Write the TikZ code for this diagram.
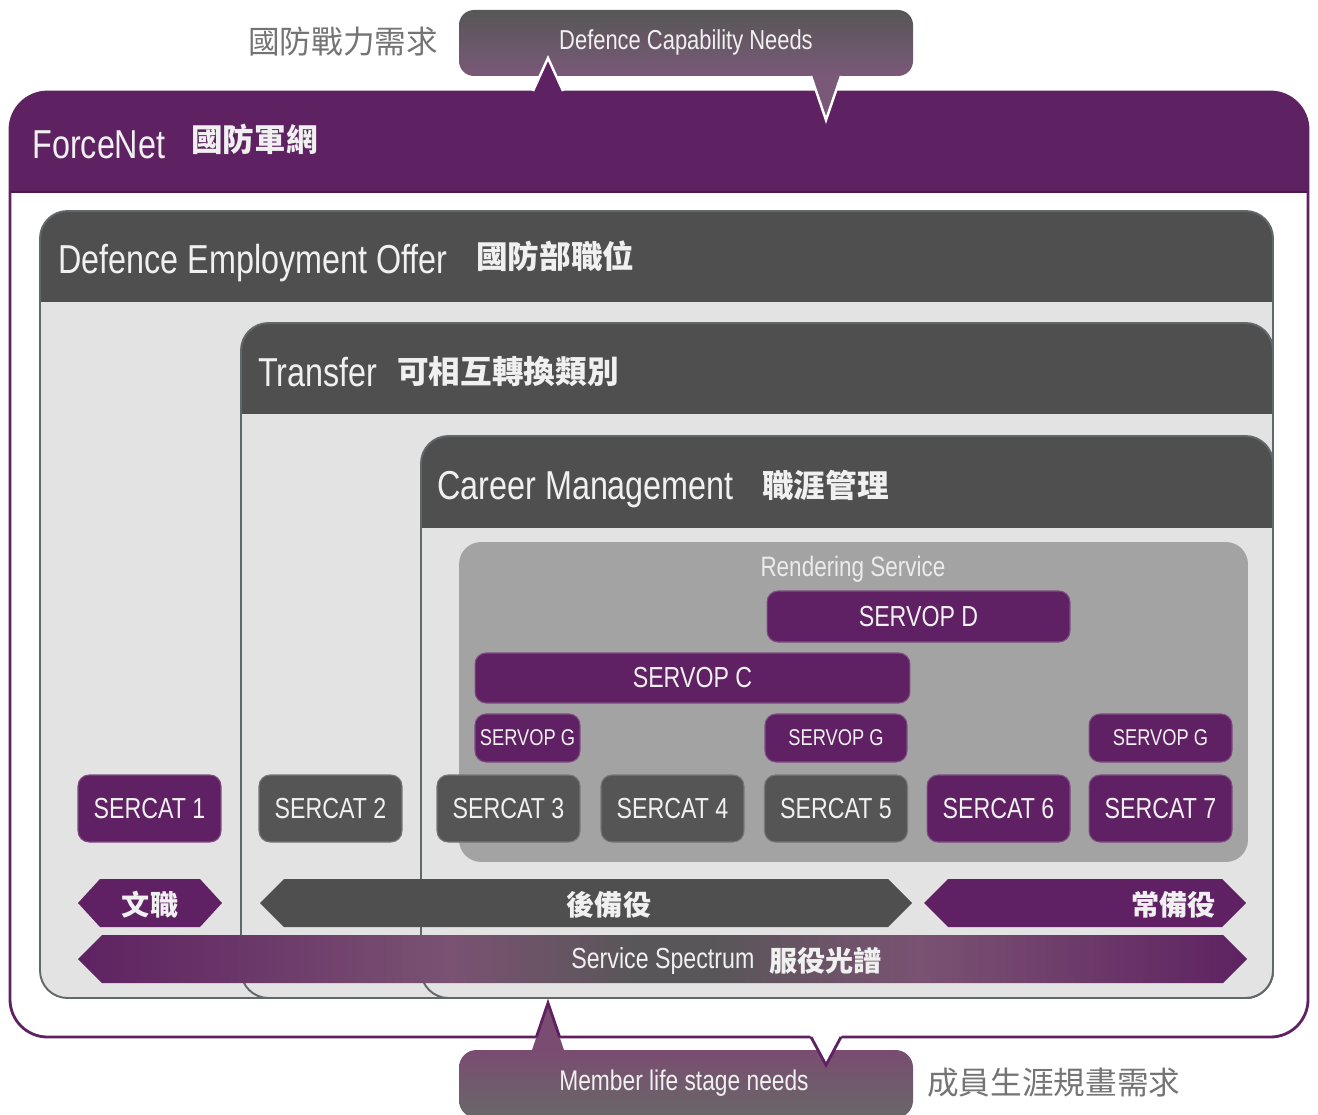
\documentclass[tikz,border=0pt]{standalone}
\usepackage{fontspec}
\setmainfont{Liberation Sans}[FakeStretch=0.8]
\newfontfamily\cjk{Noto Sans CJK TC}
\definecolor{fnpurple}{HTML}{5E2262}
\definecolor{fndark}{HTML}{4A1A4E}
\definecolor{boxpurple}{HTML}{5F2163}
\definecolor{dkgray}{HTML}{4F4F4F}
\definecolor{boxgray}{HTML}{555555}
\definecolor{panelbg}{HTML}{E3E3E3}
\definecolor{panelline}{HTML}{62676A}
\definecolor{rsgray}{HTML}{A3A3A3}
\definecolor{rstxt}{HTML}{EBEBEB}
\definecolor{txtw}{HTML}{F0F0F0}
\definecolor{lblgray}{HTML}{747474}
\definecolor{calTop}{HTML}{575757}
\definecolor{calBot}{HTML}{7A5878}
\definecolor{calTwoTop}{HTML}{7A4C71}
\definecolor{calTwoBot}{HTML}{686868}
\definecolor{mauveA}{HTML}{7A5272}
\definecolor{grayC}{HTML}{585658}
\pgfdeclarehorizontalshading{spectrum}{100bp}{color(0bp)=(fnpurple); color(25bp)=(fnpurple); color(41bp)=(mauveA); color(49bp)=(grayC); color(52bp)=(grayC); color(61bp)=(mauveA); color(75bp)=(fnpurple); color(100bp)=(fnpurple)}
\begin{document}
\begin{tikzpicture}[x=0.02cm,y=-0.02cm,
  wtxt/.style={inner sep=0, text=txtw},
  enhdr/.style={wtxt, font=\fontsize{23}{26}\selectfont, anchor=base west},
  zhhdr/.style={wtxt, font=\cjk\bfseries\fontsize{18}{20}\selectfont, anchor=base west},
  zhbar/.style={wtxt, font=\cjk\bfseries\fontsize{16}{18}\selectfont},
  box/.style={rounded corners=0.22cm, inner sep=0, text=txtw, font=\fontsize{16.5}{18}\selectfont, line width=0.6pt},
  pbox/.style={box, fill=boxpurple, draw=boxpurple!80!white},
  gbox/.style={box, fill=boxgray, draw=boxgray!80!white},
  gsmall/.style={pbox, font=\fontsize{13}{15}\selectfont, minimum height=0.96cm},
  sercat/.style={minimum width=2.86cm, minimum height=1.34cm},
  panel/.style={rounded corners=0.55cm}
]
\useasboundingbox (0,0) rectangle (1318,1115);
\clip (0,0) rectangle (1318,1115);

% ---------- top callout
\shade[top color=calTop, bottom color=calBot, rounded corners=0.3cm] (459,10) rectangle (913,76);

% ---------- outer ForceNet box
\draw[fnpurple, line width=1.6pt, fill=white, rounded corners=0.75cm] (10,92) rectangle (1308,1037);
\begin{scope}
  \clip[rounded corners=0.75cm] (10,92) rectangle (1308,1037);
  \fill[fnpurple] (10,92) rectangle (1308,192);
\end{scope}
\draw[fndark, line width=0.8pt] (11,192) -- (1307,192);

% top spikes
\fill[fnpurple] (532,94) -- (548,58) -- (564,94) -- cycle;
\draw[white, line width=1.4pt] (533,91) -- (548,58) -- (563,91);
\fill[calBot] (811,74) -- (826,120) -- (841,74) -- cycle;
\draw[white, line width=1.4pt] (811,76) -- (826,120) -- (841,76);

% ---------- nested panels
\foreach \px/\yt/\yh in {40/211/302, 241/323/414, 421/436/528} {
  \fill[panelbg, panel] (\px,\yt) rectangle (1273,998);
  \begin{scope}
    \clip[panel] (\px,\yt) rectangle (1273,998);
    \fill[dkgray] (\px,\yt) rectangle (1273,\yh);
  \end{scope}
  \draw[panelline, line width=1.1pt, panel] (\px,\yt) rectangle (1273,998);
}

% ---------- rendering service
\node[fill=rsgray, rounded corners=0.44cm, minimum width=15.78cm, minimum height=6.4cm, inner sep=0] (rs) at (853.5,702) {};
\node[inner sep=0, text=rstxt, font=\fontsize{16}{18}\selectfont, anchor=base] (rslbl) at (853,576) {Rendering Service};

\node[pbox, minimum width=6.06cm, minimum height=1.02cm] (servopD) at (918.5,616.5) {SERVOP D};
\node[pbox, minimum width=8.7cm, minimum height=1.0cm] (servopC) at (692.5,678) {SERVOP C};
\node[gsmall, minimum width=2.1cm] (servopG1) at (527.5,738) {SERVOP G};
\node[gsmall, minimum width=2.84cm] (servopG2) at (836,738) {SERVOP G};
\node[gsmall, minimum width=2.86cm] (servopG3) at (1160.5,738) {SERVOP G};

% ---------- SERCAT boxes
\node[pbox, sercat] (sc1) at (149.5,808.5) {SERCAT 1};
\node[gbox, sercat] (sc2) at (330.5,808.5) {SERCAT 2};
\node[gbox, sercat] (sc3) at (508.5,808.5) {SERCAT 3};
\node[gbox, sercat] (sc4) at (672.5,808.5) {SERCAT 4};
\node[gbox, sercat] (sc5) at (836,808.5) {SERCAT 5};
\node[pbox, sercat] (sc6) at (998.5,808.5) {SERCAT 6};
\node[pbox, sercat] (sc7) at (1160.5,808.5) {SERCAT 7};

% ---------- service bars
\fill[boxpurple] (78,903) -- (100,879) -- (200,879) -- (222,903) -- (200,927) -- (100,927) -- cycle;
\fill[dkgray] (260,903) -- (284,879) -- (888,879) -- (912,903) -- (888,927) -- (284,927) -- cycle;
\fill[boxpurple] (924,903) -- (948,879) -- (1222,879) -- (1246,903) -- (1222,927) -- (948,927) -- cycle;
\shade[shading=spectrum] (78,959) -- (102,935) -- (1223,935) -- (1247,959) -- (1223,983) -- (102,983) -- cycle;

\node[zhbar, anchor=base] (wenzhi) at (150,915) {文職};
\node[zhbar, anchor=base] (houbei) at (609,915) {後備役};
\node[zhbar, anchor=base east] (changbei) at (1216,915) {常備役};
\node[wtxt, font=\fontsize{16.5}{18}\selectfont, anchor=base west] (ssen) at (571,968) {Service Spectrum};
\node[zhbar, anchor=base west] (sszh) at (769,971) {服役光譜};

% ---------- bottom callout
\shade[top color=calTwoTop, bottom color=calTwoBot, rounded corners=0.35cm] (459,1050) rectangle (913,1118);
\fill[calTwoTop] (531,1053) -- (548,1003) -- (565,1053) -- cycle;
\draw[fnpurple, line width=1.6pt] (536.4,1037) -- (548,1003) -- (559.6,1037);
\fill[white] (810,1035) -- (826,1065) -- (842,1035) -- cycle;
\draw[fnpurple, line width=1.6pt] (811,1037) -- (826,1065) -- (841,1037);

% ---------- headers
\node[enhdr] (fnen) at (32,158) {ForceNet};
\node[zhhdr] (fnzh) at (191,152) {國防軍網};
\node[enhdr] (deoen) at (58,273) {Defence Employment Offer};
\node[zhhdr] (deozh) at (476,268) {國防部職位};
\node[enhdr] (tren) at (258,386) {Transfer};
\node[zhhdr] (trzh) at (397,383) {可相互轉換類別};
\node[enhdr] (cmen) at (437,499) {Career Management};
\node[zhhdr] (cmzh) at (762,497) {職涯管理};

% ---------- callout labels
\node[inner sep=0, text=lblgray, font=\cjk\fontsize{18}{20}\selectfont, anchor=base west] (capzh) at (248,54) {國防戰力需求};
\node[wtxt, font=\fontsize{15.6}{18}\selectfont, anchor=base] (capen) at (686,50) {Defence Capability Needs};
\node[wtxt, font=\fontsize{16.2}{18}\selectfont, anchor=base] (memen) at (684,1090) {Member life stage needs};
\node[inner sep=0, text=lblgray, font=\cjk\fontsize{18}{20}\selectfont, anchor=base west] (memzh) at (927,1094) {成員生涯規畫需求};
\end{tikzpicture}
\end{document}
